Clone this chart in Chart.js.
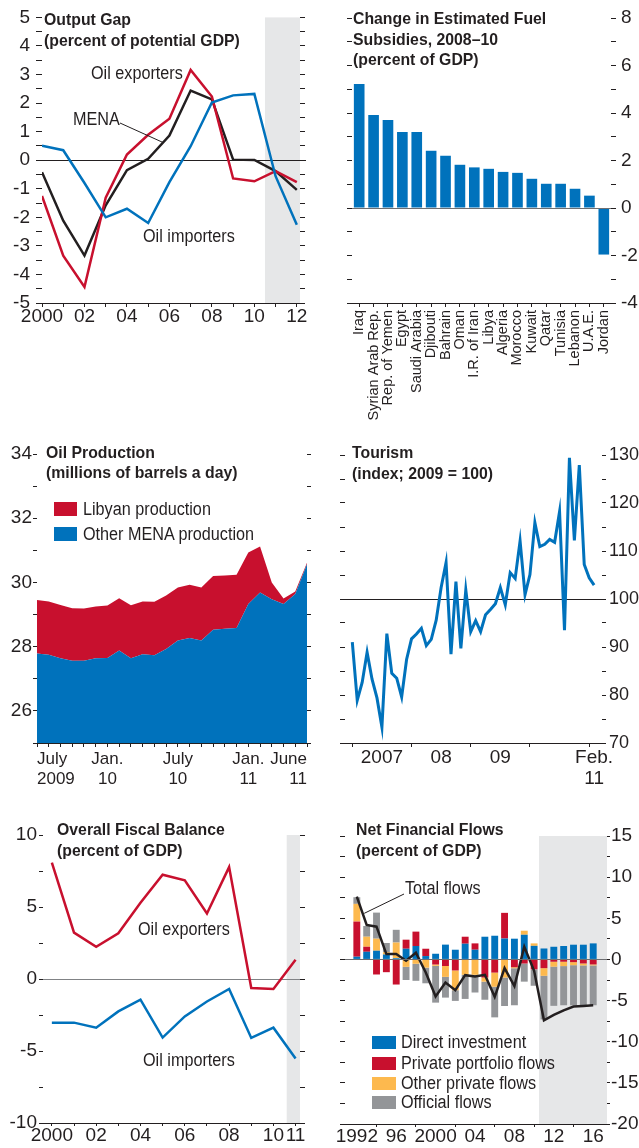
<!DOCTYPE html>
<html>
<head>
<meta charset="utf-8">
<script src="https://cdn.jsdelivr.net/npm/chart.js@4/dist/chart.umd.min.js"></script>
<style>
  body { margin: 0; background: #fff; width: 639px; height: 1148px; position: relative; overflow: hidden;
         font-family: 'Liberation Sans', Arial, sans-serif; color: #231f20; }
  canvas { position: absolute; }
  .t { position: absolute; font-weight: bold; font-size: 17px; line-height: 21px; white-space: nowrap;
       transform: scaleX(0.93); transform-origin: 0 0; }
  .n { position: absolute; font-size: 18px; line-height: 18px; white-space: nowrap;
       transform: scaleX(0.9); transform-origin: 0 0; }
  .k { position: absolute; }
</style>
</head>
<body>
<canvas id="gap" width="318" height="335" style="left:0;top:0"></canvas>
<canvas id="fuel" width="319" height="430" style="left:320px;top:0"></canvas>
<canvas id="oil" width="318" height="370" style="left:0;top:430px"></canvas>
<canvas id="tour" width="319" height="370" style="left:320px;top:430px"></canvas>
<canvas id="fisc" width="318" height="338" style="left:0;top:810px"></canvas>
<canvas id="flow" width="319" height="338" style="left:320px;top:810px"></canvas>

<div class="t" style="left:44px;top:9px">Output Gap<br>(percent of potential GDP)</div>
<div class="n" style="left:91px;top:64px">Oil exporters</div>
<div class="n" style="left:73px;top:110px">MENA</div>
<div class="n" style="left:143px;top:227px">Oil importers</div>

<div class="t" style="left:353px;top:9px;line-height:20.5px">Change in Estimated Fuel<br>Subsidies, 2008–10<br>(percent of GDP)</div>

<div class="t" style="left:46px;top:443px;line-height:20px">Oil Production<br>(millions of barrels a day)</div>
<div class="k" style="left:54px;top:502px;width:23px;height:14px;background:#c8102e"></div>
<div class="n" style="left:83px;top:500px">Libyan production</div>
<div class="k" style="left:54px;top:527px;width:23px;height:14px;background:#0072bc"></div>
<div class="n" style="left:83px;top:525px">Other MENA production</div>

<div class="t" style="left:352px;top:442px;line-height:21px">Tourism<br>(index; 2009 = 100)</div>

<div class="t" style="left:57px;top:819px">Overall Fiscal Balance<br>(percent of GDP)</div>
<div class="n" style="left:138px;top:920px">Oil exporters</div>
<div class="n" style="left:143px;top:1051px">Oil importers</div>

<div class="t" style="left:356px;top:819px">Net Financial Flows<br>(percent of GDP)</div>
<div class="n" style="left:405px;top:879px">Total flows</div>
<div class="k" style="left:372px;top:1036px;width:24px;height:13px;background:#0072bc"></div>
<div class="n" style="left:401px;top:1033px">Direct investment</div>
<div class="k" style="left:372px;top:1057px;width:24px;height:13px;background:#c8102e"></div>
<div class="n" style="left:401px;top:1054px">Private portfolio flows</div>
<div class="k" style="left:372px;top:1077px;width:24px;height:13px;background:#fdb94e"></div>
<div class="n" style="left:401px;top:1074px">Other private flows</div>
<div class="k" style="left:372px;top:1096px;width:24px;height:13px;background:#939598"></div>
<div class="n" style="left:401px;top:1093px">Official flows</div>

<script>
const INK = '#231f20', BLUE = '#0072bc', RED = '#c8102e', GOLD = '#fdb94e', GREY = '#939598', SHADE = '#e6e7e8';
const FONT = "'Liberation Sans', Arial, sans-serif";

// Output gap (percent of potential GDP)
const gapYears = [2000, 2001, 2002, 2003, 2004, 2005, 2006, 2007, 2008, 2009, 2010, 2011, 2012];
const gapImporters = [0.51, 0.35, -0.8, -2.0, -1.7, -2.2, -0.77, 0.49, 2.02, 2.27, 2.32, -0.56, -2.26];
const gapExporters = [-1.25, -3.34, -4.44, -1.31, 0.2, 0.89, 1.45, 3.16, 2.23, -0.64, -0.74, -0.38, -0.77];
const gapMena = [-0.42, -2.12, -3.34, -1.58, -0.35, 0.05, 0.86, 2.44, 2.13, 0.02, 0.01, -0.38, -1.04];

// Change in estimated fuel subsidies, 2008-10
const fuelCountries = ['Iraq', 'Syrian Arab Rep.', 'Rep. of Yemen', 'Egypt', 'Saudi Arabia', 'Djibouti', 'Bahrain', 'Oman',
  'I.R. of Iran', 'Libya', 'Algeria', 'Morocco', 'Kuwait', 'Qatar', 'Tunisia', 'Lebanon', 'U.A.E.', 'Jordan'];
const fuelChange = [5.22, 3.92, 3.71, 3.2, 3.2, 2.41, 2.2, 1.82, 1.71, 1.65, 1.52, 1.48, 1.23, 1.02, 1.02, 0.81, 0.52, -1.96];

// Oil production (millions of barrels a day)
const oilMonths = ['Jul 2009', 'Aug 2009', 'Sep 2009', 'Oct 2009', 'Nov 2009', 'Dec 2009', 'Jan 2010', 'Feb 2010',
  'Mar 2010', 'Apr 2010', 'May 2010', 'Jun 2010', 'Jul 2010', 'Aug 2010', 'Sep 2010', 'Oct 2010', 'Nov 2010',
  'Dec 2010', 'Jan 2011', 'Feb 2011', 'Mar 2011', 'Apr 2011', 'May 2011', 'Jun 2011'];
const oilOther = [27.79, 27.75, 27.64, 27.56, 27.56, 27.64, 27.65, 27.88, 27.64, 27.76, 27.73, 27.93,
  28.19, 28.27, 28.19, 28.53, 28.56, 28.58, 29.33, 29.69, 29.48, 29.33, 29.64, 30.57];
const oilLibya = [1.66, 1.66, 1.66, 1.64, 1.63, 1.61, 1.63, 1.63, 1.65, 1.65, 1.67, 1.66,
  1.65, 1.66, 1.65, 1.67, 1.66, 1.66, 1.6, 1.43, 0.52, 0.17, 0.08, 0.04];
const oilTickLabels = {0: ['July', '2009'], 6: ['Jan.', '10'], 12: ['July', '10'], 18: ['Jan.', '11'], 23: ['June', '11']};

// Tourism (index; 2009 = 100), monthly Jan. 2007 - Feb. 2011
const tourIndex = [91.0, 78.9, 82.6, 88.9, 83.3, 79.4, 73.3, 92.8, 84.5, 83.5,
  79.6, 87.4, 91.7, 92.7, 93.9, 90.3, 91.6, 95.6, 102.4, 107.6,
  88.5, 103.6, 89.7, 101.9, 93.2, 95.5, 93.2, 96.7, 97.8, 99.0,
  102.4, 98.8, 105.5, 104.3, 112.1, 100.9, 105.1, 115.9, 110.9, 111.4,
  112.4, 111.8, 118.2, 93.5, 129.4, 112.2, 127.9, 107.2, 104.4, 102.9];
const tourYearStarts = [0, 12, 24, 36, 48];
const tourTickLabels = {6: '2007', 18: '08', 30: '09', 49: ['Feb.', '11']};

// Overall fiscal balance (percent of GDP)
const fiscYears = [2000, 2001, 2002, 2003, 2004, 2005, 2006, 2007, 2008, 2009, 2010, 2011];
const fiscExporters = [8.09, 3.22, 2.23, 3.17, 5.29, 7.24, 6.85, 4.55, 7.77, -0.62, -0.69, 1.33];
const fiscImporters = [-3.03, -3.03, -3.38, -2.25, -1.43, -4.07, -2.6, -1.56, -0.69, -4.09, -3.38, -5.52];

// Net financial flows (percent of GDP)
const flowYears = [1992, 1993, 1994, 1995, 1996, 1997, 1998, 1999, 2000, 2001, 2002, 2003, 2004,
  2005, 2006, 2007, 2008, 2009, 2010, 2011, 2012, 2013, 2014, 2015, 2016];
const flowDirect = [0.33, 0.93, 1.06, 0.6, 0.15, 1.3, 1.63, 0.41, 0.69, 1.8, 1.18, 1.91, 1.18,
  2.76, 2.88, 2.54, 2.52, 3.0, 1.65, 1.33, 1.54, 1.63, 1.79, 1.79, 1.95];
const flowPortfolio = [4.27, 0.61, -1.83, -1.55, -3.05, 1.1, 1.75, 0.89, -0.62, -0.8, -1.34, 0.85, 0.77,
  -2.2, -1.6, 3.12, -0.95, -0.5, -1.2, -1.06, -0.28, -0.28, -0.33, -0.49, -0.61];
const flowOtherPrivate = [2.15, 1.22, 1.46, 0.28, 1.9, -0.9, -0.53, -1.0, -0.16, -1.32, -2.4, -1.87, -1.87,
  -0.5, -1.72, -2.2, -0.12, 0.49, 0.3, -0.93, -0.6, -0.53, -0.37, -0.24, -0.12];
const flowOfficial = [0.81, 1.3, 3.17, 1.12, 1.55, -1.6, -2.07, -1.9, -4.47, -2.52, -1.3, -2.93, -2.15,
  -2.2, -3.72, -3.46, -4.5, -2.2, -2.0, -5.3, -4.76, -4.76, -4.88, -4.84, -4.84];
const flowTotal = [7.64, 4.19, 3.98, 0.65, 0.65, -0.16, 0.81, -1.59, -4.5, -2.8, -3.74, -1.91, -2.07,
  -1.87, -4.55, -1.06, -3.25, 1.54, -1.38, -7.4, -6.75, -6.18, -5.73, -5.65, -5.57];
const flowTickYears = [1992, 1996, 2000, 2004, 2008, 2012, 2016];

Chart.defaults.font.family = FONT;
Chart.defaults.font.size = 19;
Chart.defaults.color = INK;
Chart.defaults.animation = false;
Chart.defaults.responsive = false;
Chart.defaults.plugins.legend.display = false;
Chart.defaults.plugins.tooltip.enabled = false;
Chart.defaults.elements.point.radius = 0;
Chart.defaults.elements.line.tension = 0;

// gray band for projections
const shade = {
  id: 'shade',
  beforeDraw(chart, args, o) {
    if (o.from === undefined) return;
    const {ctx, chartArea: a, scales: {x}} = chart;
    const left = Math.max(a.left, x.getPixelForValue(o.from));
    ctx.save();
    ctx.fillStyle = SHADE;
    ctx.fillRect(left, a.top, a.right - left, a.bottom - a.top);
    ctx.restore();
  }
};

// horizontal reference line (zero / 100)
function drawRef(chart, o) {
  const {ctx, chartArea: a, scales} = chart;
  const y = Math.round(scales[o.axis || 'y'].getPixelForValue(o.value)) + 0.5;
  ctx.save();
  ctx.strokeStyle = o.color || INK;
  ctx.lineWidth = 1;
  ctx.beginPath();
  ctx.moveTo(a.left - (o.extend || 0), y);
  ctx.lineTo(a.right + (o.extend || 0), y);
  ctx.stroke();
  ctx.restore();
}
const refLine = {
  id: 'refLine',
  beforeDatasetsDraw(chart, args, o) { if (o.value !== undefined && !o.onTop) drawRef(chart, o); },
  afterDatasetsDraw(chart, args, o) { if (o.value !== undefined && o.onTop) drawRef(chart, o); }
};

// thin pointer from a label to its series
const leader = {
  id: 'leader',
  afterDatasetsDraw(chart, args, o) {
    if (!o.from) return;
    const {ctx, scales} = chart;
    ctx.save();
    ctx.strokeStyle = INK;
    ctx.lineWidth = 1;
    ctx.beginPath();
    ctx.moveTo(o.from[0], o.from[1]);
    ctx.lineTo(scales.x.getPixelForValue(o.to[0]), scales[o.axis || 'y'].getPixelForValue(o.to[1]));
    ctx.stroke();
    ctx.restore();
  }
};
Chart.register(shade, refLine, leader);

function points(xs, ys) { return ys.map((y, i) => ({x: xs[i], y})); }

function lineSet(xs, ys, color, width) {
  return {data: points(xs, ys), borderColor: color, borderWidth: width || 2.5, pointRadius: 0, fill: false};
}

function valueAxis(o) {
  return {
    type: 'linear', position: o.position, min: o.min, max: o.max,
    afterFit: s => { s.width = o.width; },
    ticks: {
      display: o.labels !== false, stepSize: o.step, autoSkip: false, padding: o.pad === undefined ? 4 : o.pad,
      font: {size: o.size || 19},
      callback: v => (o.every && Math.abs(v / o.every - Math.round(v / o.every)) < 1e-6) ? String(v) : ''
    },
    grid: {drawOnChartArea: false, tickColor: INK, tickLength: o.tick || 5},
    border: {display: false}
  };
}

function yearAxis(o) {
  return {
    type: 'linear', min: o.min, max: o.max, offset: false,
    afterBuildTicks: s => { s.ticks = o.ticks.map(v => ({value: v})); },
    afterFit: s => { s.height = o.height; },
    ticks: {autoSkip: false, maxRotation: 0, padding: 0, font: {size: 19, lineHeight: 1}, callback: o.label},
    grid: {drawOnChartArea: false, tickLength: o.tick || 4, tickColor: INK},
    border: {color: INK, width: 1}
  };
}

const shortYear = v => (v === 2000 || v === 1992) ? String(v) : String(v).slice(2);

// 1. Output gap
new Chart(document.getElementById('gap'), {
  type: 'line',
  data: {datasets: [
    lineSet(gapYears, gapImporters, BLUE),
    lineSet(gapYears, gapExporters, RED),
    lineSet(gapYears, gapMena, INK)
  ]},
  options: {
    layout: {padding: {top: 17}},
    scales: {
      x: yearAxis({min: 2000, max: 2012.15, ticks: gapYears, height: 32,
        label: v => v % 2 === 0 ? shortYear(v) : ''}),
      y: valueAxis({position: 'left', min: -5, max: 5, step: 0.5, every: 1, width: 42, tick: 6, pad: 6}),
      y2: valueAxis({position: 'right', min: -5, max: 5, step: 0.5, width: 18, labels: false})
    },
    plugins: {
      shade: {from: 2010.5},
      refLine: {value: 0, color: INK, extend: 6},
      leader: {from: [120, 123], to: [2005.7, 0.62]}
    }
  }
});

// 2. Fuel subsidies
new Chart(document.getElementById('fuel'), {
  type: 'bar',
  data: {labels: fuelCountries, datasets: [{data: fuelChange, backgroundColor: BLUE, barPercentage: 0.74, categoryPercentage: 1, yAxisID: 'y'}]},
  options: {
    layout: {padding: {top: 18}},
    scales: {
      x: {
        type: 'category', offset: true,
        afterFit: s => { s.height = 127; },
        ticks: {autoSkip: false, minRotation: 90, maxRotation: 90, padding: 3, font: {size: 14.5, lineHeight: 1}},
        grid: {offset: false, drawOnChartArea: false, tickLength: 4, tickColor: INK},
        border: {color: INK, width: 1}
      },
      yL: valueAxis({position: 'left', min: -4, max: 8, step: 1, width: 32, labels: false}),
      y: valueAxis({position: 'right', min: -4, max: 8, step: 1, every: 2, width: 28, tick: 5, pad: 5})
    },
    plugins: {refLine: {value: 0, color: '#6d6e71', onTop: true}}
  }
});

// 3. Oil production
new Chart(document.getElementById('oil'), {
  type: 'line',
  data: {labels: oilMonths, datasets: [
    {data: oilOther, backgroundColor: BLUE, borderWidth: 0, fill: 'start'},
    {data: oilLibya, backgroundColor: RED, borderWidth: 0, fill: '-1'}
  ]},
  options: {
    layout: {padding: {top: 24}},
    scales: {
      x: {
        type: 'category', offset: false,
        afterFit: s => { s.height = 57; },
        ticks: {autoSkip: false, maxRotation: 0, align: 'inner', padding: 3, font: {size: 17, lineHeight: 1.15},
          callback: (v, i) => oilTickLabels[i] || ''},
        grid: {drawOnChartArea: false, tickLength: 4, tickColor: INK},
        border: {color: INK, width: 1}
      },
      y: Object.assign(valueAxis({position: 'left', min: 25, max: 34, step: 1, every: 2, width: 37, tick: 4, pad: 1}), {stacked: true}),
      y2: valueAxis({position: 'right', min: 25, max: 34, step: 1, width: 11, labels: false, tick: 4})
    }
  }
});

// 4. Tourism
new Chart(document.getElementById('tour'), {
  type: 'line',
  data: {datasets: [{data: tourIndex.map((v, i) => ({x: i, y: v})), borderColor: BLUE, borderWidth: 3, fill: false}]},
  options: {
    layout: {padding: {top: 25}},
    scales: {
      x: {
        type: 'linear', min: -1.48, max: 50.6,
        afterBuildTicks: s => { s.ticks = [0, 6, 12, 18, 24, 30, 36, 48, 49].map(v => ({value: v})); },
        afterFit: s => { s.height = 57; },
        ticks: {autoSkip: false, maxRotation: 0, padding: 0, font: {size: 19, lineHeight: 1.1},
          callback: v => tourTickLabels[v] || ''},
        grid: {drawOnChartArea: false, tickLength: 4,
          tickColor: ctx => (ctx.tick && tourYearStarts.includes(ctx.tick.value)) ? INK : 'rgba(0,0,0,0)'},
        border: {color: INK, width: 1}
      },
      yL: valueAxis({position: 'left', min: 70, max: 130, step: 5, width: 25, labels: false}),
      y: valueAxis({position: 'right', min: 70, max: 130, step: 5, every: 10, width: 37, tick: 4, pad: 3, size: 18})
    },
    plugins: {refLine: {value: 100, color: INK}}
  }
});

// 5. Fiscal balance
new Chart(document.getElementById('fisc'), {
  type: 'line',
  data: {datasets: [
    lineSet(fiscYears, fiscExporters, RED),
    lineSet(fiscYears, fiscImporters, BLUE)
  ]},
  options: {
    layout: {padding: {top: 25}},
    scales: {
      x: yearAxis({min: 1999.6, max: 2011.2, ticks: fiscYears, height: 25, tick: 3,
        label: v => (v % 2 === 0 || v === 2011) ? shortYear(v) : ''}),
      y: valueAxis({position: 'left', min: -10, max: 10, step: 2.5, every: 5, width: 43, tick: 4, pad: 2}),
      y2: valueAxis({position: 'right', min: -10, max: 10, step: 2.5, width: 18, labels: false})
    },
    plugins: {
      shade: {from: 2010.6},
      refLine: {value: 0, color: '#808285'}
    }
  }
});

// 6. Net financial flows
function barSet(vals, color) {
  return {data: points(flowYears, vals), backgroundColor: color, barPercentage: 0.7, categoryPercentage: 1, order: 1, stack: 'flows'};
}
new Chart(document.getElementById('flow'), {
  type: 'bar',
  data: {datasets: [
    barSet(flowDirect, BLUE),
    barSet(flowPortfolio, RED),
    barSet(flowOtherPrivate, GOLD),
    barSet(flowOfficial, GREY),
    {type: 'line', data: points(flowYears, flowTotal), borderColor: INK, borderWidth: 2.5, pointRadius: 0, fill: false, order: 0, stack: 'total'}
  ]},
  options: {
    layout: {padding: {top: 26}},
    scales: {
      x: Object.assign(yearAxis({min: 1990.8, max: 2017.4, ticks: flowTickYears, height: 24, tick: 3, label: shortYear}), {stacked: true}),
      yL: valueAxis({position: 'left', min: -20, max: 15, step: 2.5, width: 25, labels: false}),
      y: Object.assign(valueAxis({position: 'right', min: -20, max: 15, step: 2.5, every: 5, width: 32, tick: 3, pad: 1}), {stacked: true})
    },
    plugins: {
      shade: {from: 2010.5},
      refLine: {value: 0, color: '#6d6e71', onTop: true},
      leader: {from: [84, 84], to: [1992.75, 5.6]}
    }
  }
});
</script>
</body>
</html>
